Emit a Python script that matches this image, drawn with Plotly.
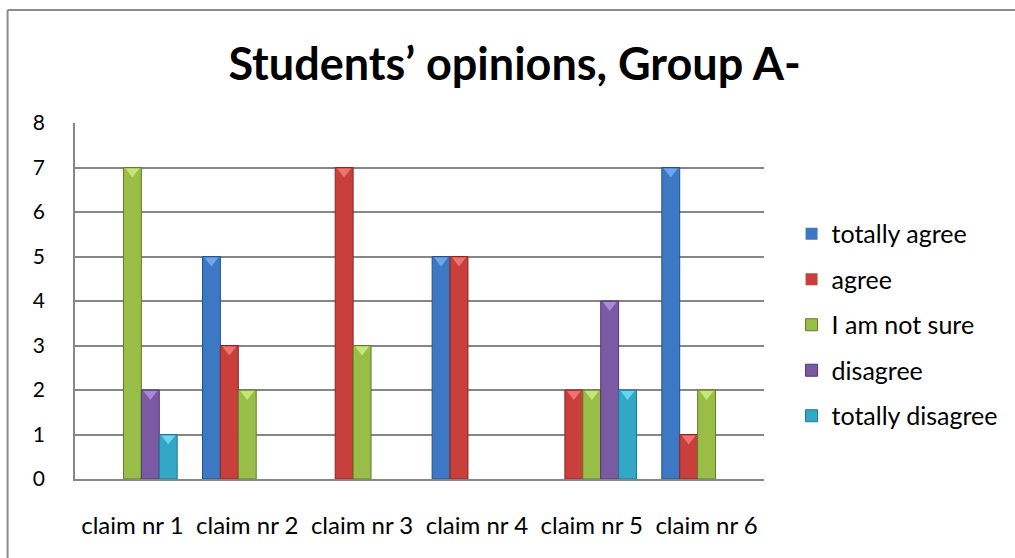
import plotly.graph_objects as go

categories = ["claim nr 1", "claim nr 2", "claim nr 3", "claim nr 4", "claim nr 5", "claim nr 6"]
series_names = ["totally agree", "agree", "I am not sure", "disagree", "totally disagree"]
totally_agree = [0, 5, 0, 5, 0, 7]
agree = [0, 3, 7, 5, 2, 1]
not_sure = [7, 2, 3, 0, 2, 2]
disagree = [2, 0, 0, 0, 4, 0]
totally_disagree = [1, 0, 0, 0, 2, 0]
y_ticks = [0, 1, 2, 3, 4, 5, 6, 7, 8]

values = [totally_agree, agree, not_sure, disagree, totally_disagree]
fill_colors = ["#3C78C3", "#C83F3C", "#98BE47", "#7A5AA2", "#33A7C6"]
edge_colors = ["#25508A", "#8A2624", "#627C2A", "#4F3970", "#1F7690"]
bevel_colors = ["#6FA6E8", "#EE7370", "#C6E57A", "#A98AD6", "#6AD6EE"]

FONT = "Lato"

fig = go.Figure()
for i, (name, vals) in enumerate(zip(series_names, values)):
    fig.add_trace(go.Bar(
        x=categories, y=vals, name=name,
        marker=dict(color=fill_colors[i],
                    line=dict(color=edge_colors[i], width=[1 if v > 0 else 0 for v in vals])),
        legendgroup=name,
    ))
# bevel highlight at the top of each bar
for i, (name, vals) in enumerate(zip(series_names, values)):
    fig.add_trace(go.Scatter(
        x=categories, y=[v - 0.09 if v > 0 else None for v in vals],
        mode="markers", showlegend=False, hoverinfo="skip", legendgroup=name,
        marker=dict(symbol="triangle-down", size=12, color=bevel_colors[i],
                    line=dict(width=0)),
    ))

W, H = 1015, 558
ml, mr, mt, mb = 75, 245, 123, 79
pw, ph = W - ml - mr, H - mt - mb
frame_x = (7 - ml) / pw
frame_y = (H - 10 - mb) / ph

fig.update_layout(
    width=W, height=H,
    margin=dict(l=ml, r=mr, t=mt, b=mb),
    paper_bgcolor="white", plot_bgcolor="white",
    barmode="group", bargap=0.22, bargroupgap=0,
    scattermode="group", scattergap=0.22,
    font=dict(family=FONT, color="#000000", size=18),
    title=dict(text="<b>Students’ opinions, Group A-</b>", x=0.507, xanchor="center",
               y=1 - 64 / H, yanchor="middle", font=dict(size=45, family=FONT)),
    legend=dict(x=1.04, xanchor="left", y=0.4326, yanchor="middle",
                font=dict(size=25, family=FONT), tracegroupgap=10,
                traceorder="grouped", itemwidth=30, bgcolor="rgba(0,0,0,0)"),
    xaxis=dict(showgrid=False, showline=True, linecolor="#868686", linewidth=1.5,
               ticks="", ticklabelstandoff=24, tickfont=dict(size=24, family=FONT)),
    yaxis=dict(range=[0, 8], tickvals=y_ticks, showgrid=True, gridcolor="#868686",
               gridwidth=1.5, showline=True, linecolor="#868686", linewidth=1.5,
               zeroline=False, ticks="", ticklabelstandoff=24,
               tickfont=dict(size=21, family=FONT)),
    shapes=[
        dict(type="line", xref="paper", yref="paper", x0=frame_x, x1=2.0,
             y0=frame_y, y1=frame_y, line=dict(color="#8C8C8C", width=2)),
        dict(type="line", xref="paper", yref="paper", x0=frame_x, x1=frame_x,
             y0=frame_y, y1=-1.0, line=dict(color="#8C8C8C", width=2)),
    ],
)

fig.write_html("out.html", config={"displayModeBar": False},
               post_script="document.body.style.margin='0';document.body.style.overflow='hidden';")
